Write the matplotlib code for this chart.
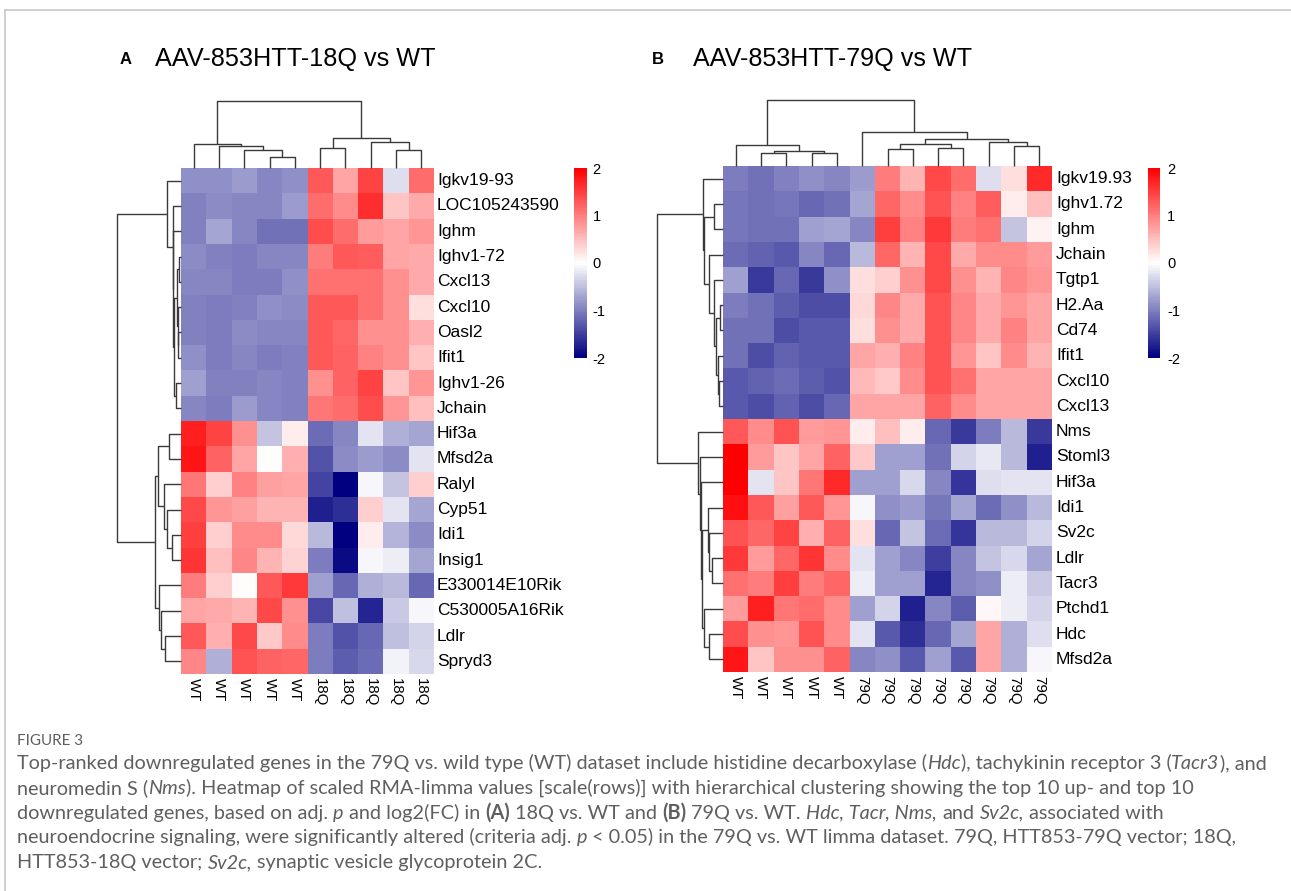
import numpy as np
import matplotlib
matplotlib.use('Agg')
import matplotlib.pyplot as plt
from matplotlib.colors import LinearSegmentedColormap
from matplotlib import font_manager as fm
from matplotlib.lines import Line2D

W, H = 1291, 891

# ---------------- data ----------------
genes_A = ['Igkv19-93', 'LOC105243590', 'Ighm', 'Ighv1-72', 'Cxcl13', 'Cxcl10', 'Oasl2',
           'Ifit1', 'Ighv1-26', 'Jchain', 'Hif3a', 'Mfsd2a', 'Ralyl', 'Cyp51', 'Idi1',
           'Insig1', 'E330014E10Rik', 'C530005A16Rik', 'Ldlr', 'Spryd3']
samples_A = ['WT'] * 5 + ['18Q'] * 5
values_A = np.array([
    [-0.88, -0.88, -0.80, -0.94, -0.88, 1.29, 0.71, 1.45, -0.25, 1.14],
    [-1.00, -0.90, -0.95, -0.95, -0.80, 1.14, 0.90, 1.60, 0.47, 0.67],
    [-1.00, -0.70, -0.95, -1.10, -1.10, 1.37, 1.14, 0.78, 0.70, 0.80],
    [-0.90, -0.98, -1.02, -0.95, -0.95, 1.02, 1.30, 1.25, 0.70, 0.67],
    [-0.95, -0.95, -1.02, -1.02, -0.86, 1.10, 1.10, 1.10, 0.86, 0.67],
    [-0.98, -1.02, -0.98, -0.86, -0.90, 1.30, 1.30, 1.10, 0.86, 0.27],
    [-1.00, -1.02, -0.90, -0.95, -0.95, 1.30, 1.18, 0.86, 0.86, 0.63],
    [-0.86, -1.02, -0.95, -1.02, -0.98, 1.30, 1.20, 0.98, 0.86, 0.47],
    [-0.75, -0.98, -0.98, -0.95, -1.00, 0.86, 1.20, 1.45, 0.47, 0.82],
    [-0.95, -1.02, -0.78, -0.95, -0.98, 1.06, 1.14, 1.37, 0.82, 0.51],
    [1.73, 1.45, 0.86, -0.47, 0.12, -1.14, -0.95, -0.21, -0.63, -0.70],
    [1.80, 1.20, 0.70, 0.02, 0.63, -1.33, -0.90, -0.78, -0.90, -0.24],
    [1.06, 0.39, 0.98, 0.75, 0.70, -1.45, -2.00, -0.05, -0.47, 0.39],
    [1.41, 0.82, 0.75, 0.59, 0.59, -1.76, -1.60, 0.39, -0.24, -0.70],
    [1.49, 0.39, 0.90, 0.90, 0.31, -0.55, -2.00, 0.12, -0.59, -0.90],
    [1.57, 0.51, 0.94, 0.59, 0.35, -1.02, -1.92, -0.05, -0.16, -0.70],
    [1.02, 0.39, 0.02, 1.30, 1.53, -0.75, -1.18, -0.63, -0.55, -1.18],
    [0.70, 0.67, 0.59, 1.41, 0.86, -1.41, -0.51, -1.69, -0.43, -0.05],
    [1.30, 0.63, 1.41, 0.43, 0.90, -1.02, -1.33, -1.18, -0.51, -0.35],
    [0.94, -0.63, 1.33, 1.20, 1.18, -1.02, -1.25, -1.14, -0.12, -0.31],
])

genes_B = ['Igkv19.93', 'Ighv1.72', 'Ighm', 'Jchain', 'Tgtp1', 'H2.Aa', 'Cd74', 'Ifit1',
           'Cxcl10', 'Cxcl13', 'Nms', 'Stoml3', 'Hif3a', 'Idi1', 'Sv2c', 'Ldlr', 'Tacr3',
           'Ptchd1', 'Hdc', 'Mfsd2a']
samples_B = ['WT'] * 5 + ['79Q'] * 8
values_B = np.array([
    [-1.02, -1.10, -0.98, -0.86, -0.94, -0.78, 1.02, 0.59, 1.41, 1.14, -0.27, 0.24, 1.65],
    [-1.06, -1.10, -1.06, -1.18, -1.10, -0.70, 1.18, 0.90, 1.33, 0.98, 1.25, 0.12, 0.51],
    [-1.06, -1.10, -1.10, -0.75, -0.70, -0.94, 1.49, 0.98, 1.53, 1.02, 1.10, -0.47, 0.08],
    [-1.14, -1.22, -1.29, -0.94, -1.18, -0.55, 1.18, 0.59, 1.41, 0.67, 0.90, 0.90, 0.78],
    [-0.75, -1.53, -1.18, -1.53, -0.86, 0.24, 0.39, 0.86, 1.41, 0.86, 0.59, 0.94, 0.82],
    [-1.02, -1.10, -1.25, -1.37, -1.37, 0.31, 0.94, 0.67, 1.33, 0.94, 0.67, 0.82, 0.70],
    [-1.10, -1.10, -1.37, -1.29, -1.29, 0.24, 0.86, 0.67, 1.33, 0.94, 0.67, 0.98, 0.70],
    [-1.10, -1.37, -1.22, -1.29, -1.29, 0.70, 0.63, 0.98, 1.33, 0.82, 0.47, 0.90, 0.59],
    [-1.29, -1.22, -1.14, -1.25, -1.33, 0.55, 0.43, 0.90, 1.33, 1.10, 0.70, 0.70, 0.70],
    [-1.29, -1.37, -1.22, -1.37, -1.18, 0.70, 0.70, 0.70, 1.22, 0.90, 0.70, 0.70, 0.70],
    [1.30, 0.90, 1.33, 0.78, 0.82, 0.13, 0.51, 0.13, -1.18, -1.53, -1.02, -0.55, -1.53],
    [2.00, 0.78, 0.47, 0.70, 1.20, 0.43, -0.75, -0.75, -1.10, -0.35, -0.20, -0.55, -1.76],
    [2.00, -0.21, 0.47, 1.06, 1.65, -0.75, -0.75, -0.29, -0.94, -1.57, -0.27, -0.21, -0.21],
    [1.84, 1.30, 0.75, 1.30, 0.82, -0.05, -0.86, -0.78, -1.06, -0.70, -1.14, -0.86, -0.55],
    [1.33, 1.18, 1.45, 0.63, 1.20, 0.24, -1.18, -0.47, -1.14, -1.57, -0.55, -0.55, -0.35],
    [1.53, 0.78, 1.18, 1.57, 0.90, -0.24, -0.75, -0.94, -1.49, -0.94, -0.47, -0.31, -0.70],
    [1.10, 1.02, 1.49, 1.02, 1.18, -0.13, -0.75, -0.75, -1.69, -0.94, -0.86, -0.13, -0.43],
    [0.78, 1.73, 1.06, 1.14, 0.90, -0.75, -0.35, -1.76, -0.94, -1.25, 0.04, -0.13, -0.35],
    [1.37, 0.86, 0.82, 1.33, 0.90, -0.21, -1.29, -1.60, -1.18, -0.70, 0.70, -0.63, -0.27],
    [1.80, 0.47, 0.86, 0.86, 1.20, -0.94, -0.86, -1.29, -0.75, -1.29, 0.70, -0.63, -0.05],
])

# dendrograms: (height, left, right); leaves are row/column indices
col_tree_A = (67.0, (23.7, 0, (22.3, 1, (18.0, 2, (10.7, 3, 4)))),
              (30.3, (19.7, 5, 6), (26.3, 7, (18.0, 8, 9))))
row_tree_A = (63.7,
              (14.3, 0, (8.3, 1, (7.7, 2, (6.7, (4.3, (1.7, 3, 4), (3.3, 5, (2.7, 6, 7))),
                                            (5.3, 8, 9))))),
              (26.0,
               (22.7, (12.0, 10, 11), (16.7, 12, (14.3, 13, (9.3, 14, 15)))),
               (22.0, 16, (20.3, 17, (16.0, 18, 19)))))
col_tree_B = (66.3, (20.7, 0, (15.3, (12.7, 1, 2), (12.7, 3, 4))),
              (34.3, 5, (26.7, (22.0, (17.0, 6, 7), (17.7, 8, 9)),
                         (23.7, 10, (19.7, 11, 12)))))
row_tree_B = (66.3,
              (20.3, 0, (18.7, (9.3, 1, 2),
                         (13.7, 3, (9.3, 4, (7.0, (2.7, 5, 6), (4.7, 7, (3.7, 8, 9))))))),
              (25.3, 10, (23.0, 11, (22.0, 12,
                                     (21.0, (15.3, 13, (13.7, 14, (11.0, 15, 16))),
                                      (19.3, 17, (13.7, 18, 19)))))))

titles = [('A', 'AAV-853HTT-18Q vs WT'), ('B', 'AAV-853HTT-79Q vs WT')]
cbar_ticks = [-2, -1, 0, 1, 2]

# ---------------- style ----------------
names = {f.name for f in fm.fontManager.ttflist}
BASE = 'Liberation Sans' if 'Liberation Sans' in names else 'DejaVu Sans'
HAS_NARROW = 'Liberation Sans Narrow' in names
TFONT = 'Liberation Sans Narrow' if HAS_NARROW else BASE
CAPFONT = 'Liberation Sans Narrow' if HAS_NARROW else ('Lato' if 'Lato' in names else BASE)

cmap = LinearSegmentedColormap.from_list('nwr', ['#000080', '#ffffff', '#ff0000'], N=100)
LINE_COL = '#3a3a3a'

fig = plt.figure(figsize=(W / 100, H / 100), dpi=100)
renderer = fig.canvas.get_renderer()


def ax_px(l, t, r, b):
    ax = fig.add_axes([l / W, 1 - b / H, (r - l) / W, (b - t) / H])
    ax.set_axis_off()
    return ax


def tree_lines(node, out):
    if isinstance(node, int):
        return node + 0.5, 0.0
    h, a, b = node
    xa, ha = tree_lines(a, out)
    xb, hb = tree_lines(b, out)
    out.append(((xa, xa, xb, xb), (ha, h, h, hb)))
    return (xa + xb) / 2, h


def panel(values, genes, samples, col_tree, row_tree, hl, ht, hr, hb, cb_l, cb_r, label_x, cbl_x):
    nr, nc = values.shape
    ax = ax_px(hl, ht, hr, hb)
    mesh = ax.pcolormesh(np.arange(nc + 1), np.arange(nr + 1), values, cmap=cmap,
                         vmin=-2, vmax=2, edgecolors='none', antialiased=False)
    ax.set_xlim(0, nc)
    ax.set_ylim(nr, 0)
    ch = (hb - ht) / nr
    for i, g in enumerate(genes):
        fig.text(label_x / W, 1 - (ht + ch * (i + 0.5)) / H, g, fontsize=12.5,
                 family=BASE, va='center', ha='left')
    cw = (hr - hl) / nc
    for j, s in enumerate(samples):
        fig.text((hl + cw * (j + 0.5)) / W, 1 - (hb + 4) / H, s, fontsize=10.8,
                 family=BASE, rotation=270, va='top', ha='center')
    ctop = col_tree[0] + 1
    axc = ax_px(hl, ht - ctop, hr, ht)
    lines = []
    tree_lines(col_tree, lines)
    for xs, ys in lines:
        axc.plot(xs, ys, color=LINE_COL, lw=1.0, clip_on=False, solid_capstyle='butt')
    axc.set_xlim(0, nc)
    axc.set_ylim(0, ctop)
    rtop = row_tree[0] + 1.5
    axr = ax_px(hl - rtop, ht, hl, hb)
    lines = []
    tree_lines(row_tree, lines)
    for ys, xs in lines:
        axr.plot(xs, ys, color=LINE_COL, lw=1.0, clip_on=False, solid_capstyle='butt')
    axr.set_xlim(rtop, 0)
    axr.set_ylim(nr, 0)
    cax = fig.add_axes([cb_l / W, 1 - 358 / H, (cb_r - cb_l) / W, (358 - 168) / H])
    cb = fig.colorbar(mesh, cax=cax, ticks=cbar_ticks)
    cb.outline.set_visible(False)
    cax.tick_params(length=0, pad=cbl_x - cb_r, labelsize=10.5)
    cax.set_yticklabels([str(t) for t in cbar_ticks])
    for t in cax.get_yticklabels():
        t.set_family(BASE)


panel(values_A, genes_A, samples_A, col_tree_A, row_tree_A, 181, 168, 434, 674, 574, 587, 437, 591)
panel(values_B, genes_B, samples_B, col_tree_B, row_tree_B, 723, 166, 1052, 672, 1148, 1160, 1056, 1165)


def text_w(s, size, family, **kw):
    t = fig.text(0, 0, '|' + s + '|', fontsize=size, family=family, **kw)
    w1 = t.get_window_extent(renderer).width
    t.remove()
    t = fig.text(0, 0, '||', fontsize=size, family=family, **kw)
    w0 = t.get_window_extent(renderer).width
    t.remove()
    return w1 - w0


# titles (fit to reference widths)
for (letter, title), lx, tx, tr in zip(titles, [120, 652], [155, 693], [436, 972]):
    fig.text(lx / W, 1 - 64 / H, letter, fontsize=12, weight='bold', family=BASE, va='baseline')
    tsize = 18 * (tr - tx) / text_w(title, 18, TFONT)
    fig.text(tx / W, 1 - 66 / H, title, fontsize=tsize, family=TFONT, va='baseline')

# frame
frame_col = '#c8c8c8'
fig.add_artist(Line2D([5 / W, 1], [1 - 10 / H, 1 - 10 / H], color=frame_col, lw=1.2))
fig.add_artist(Line2D([5 / W, 5 / W], [0, 1 - 10 / H], color=frame_col, lw=1.2))

# caption (rich text)
CAP_COL = '#5f5f5f'


def measure(s, size, **kw):
    return text_w(s, size, CAPFONT, **kw)


def seg_width(segs, size):
    return sum(measure(s, size, **kw) for s, kw in segs)


def draw_rich(x_px, y_px, segs, size, color):
    x = x_px
    for s, kw in segs:
        st = s.lstrip(' ')
        if len(st) < len(s):
            x += measure(s[:len(s) - len(st)], size, **kw)
        core = st.rstrip(' ')
        if core:
            fig.text(x / W, 1 - y_px / H, core, fontsize=size, family=CAPFONT,
                     color=color, va='baseline', **kw)
        x += measure(core, size, **kw)
        tail = st[len(core):]
        if tail:
            x += measure(tail, size, **kw)


R, I, B = {}, {'style': 'italic'}, {'weight': 'bold'}
caption = [
    [('Top-ranked downregulated genes in the 79Q vs. wild type (WT) dataset include histidine decarboxylase (', R),
     ('Hdc', I), ('), tachykinin receptor 3 (', R), ('Tacr3', I), ('), and', R)],
    [('neuromedin S (', R), ('Nms', I),
     ('). Heatmap of scaled RMA-limma values [scale(rows)] with hierarchical clustering showing the top 10 up- and top 10', R)],
    [('downregulated genes, based on adj. ', R), ('p', I), (' and log2(FC) in ', R), ('(A)', B),
     (' 18Q vs. WT and ', R), ('(B)', B), (' 79Q vs. WT. ', R), ('Hdc, Tacr, Nms,', I), (' and ', R),
     ('Sv2c,', I), (' associated with', R)],
    [('neuroendocrine signaling, were significantly altered (criteria adj. ', R), ('p', I),
     (' < 0.05) in the 79Q vs. WT limma dataset. 79Q, HTT853-79Q vector; 18Q,', R)],
    [('HTT853-18Q vector; ', R), ('Sv2c,', I), (' synaptic vesicle glycoprotein 2C.', R)],
]
w12 = seg_width(caption[0], 12)
cap_size = 12 * (1262 - 17) / w12
for k, line in enumerate(caption):
    draw_rich(17, 769 + 24.8 * k, line, cap_size, CAP_COL)

wf = measure('FIGURE 3', 10)
draw_rich(17, 745, [('FIGURE 3', R)], 10 * 65 / wf, CAP_COL)

fig.savefig('out.png', dpi=100)
